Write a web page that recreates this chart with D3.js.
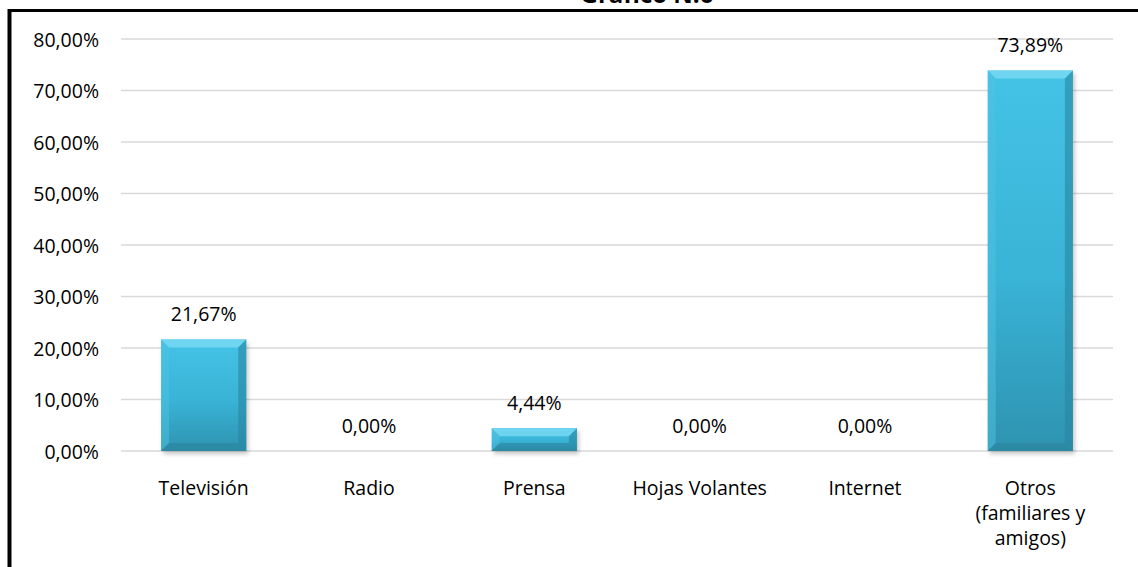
<!DOCTYPE html>
<html>
<head>
<meta charset="utf-8">
<script src="https://cdn.jsdelivr.net/npm/d3@7"></script>
<style>
  html, body { margin: 0; padding: 0; background: #fff; }
  svg { display: block; }
  text { font-family: "Open Sans", "Noto Sans", sans-serif; fill: #000; }
</style>
</head>
<body>
<svg id="chart" width="1138" height="567"></svg>
<script>
// Medio por el que se enteraron
const categories = ["Televisión", "Radio", "Prensa", "Hojas Volantes", "Internet", "Otros (familiares y amigos)"];
const categoryLines = [["Televisión"], ["Radio"], ["Prensa"], ["Hojas Volantes"], ["Internet"], ["Otros", "(familiares y", "amigos)"]];
const values = [21.67, 0.00, 4.44, 0.00, 0.00, 73.89];
const yTicks = [0, 10, 20, 30, 40, 50, 60, 70, 80];
const title = "Gráfico N.6";

const W = 1138, H = 567;
const plot = { left: 121, right: 1113, top: 39, bottom: 451 };
const fontSize = "19.5px";

const svg = d3.select("#chart");
const fmt = v => d3.format(".2f")(v).replace(".", ",") + "%";

const x = d3.scaleBand().domain(categories).range([plot.left, plot.right]).paddingInner(0.485).paddingOuter(0.2425);
const y = d3.scaleLinear().domain([0, 80]).range([plot.bottom, plot.top]);

const defs = svg.append("defs");
const face = defs.append("linearGradient").attr("id", "face").attr("x1", 0).attr("y1", 0).attr("x2", 0).attr("y2", 1);
face.append("stop").attr("offset", "0%").attr("stop-color", "#44c3e7");
face.append("stop").attr("offset", "55%").attr("stop-color", "#39b3d6");
face.append("stop").attr("offset", "100%").attr("stop-color", "#2e93b0");
const blur = defs.append("filter").attr("id", "shadow").attr("x", "-20%").attr("y", "-20%").attr("width", "140%").attr("height", "140%");
blur.append("feGaussianBlur").attr("stdDeviation", 2);

// Frame
svg.append("line").attr("x1", 10).attr("x2", W).attr("y1", 10.5).attr("y2", 10.5).attr("stroke", "#000").attr("stroke-width", 3);
svg.append("line").attr("x1", 9.5).attr("x2", 9.5).attr("y1", 9).attr("y2", H).attr("stroke", "#000").attr("stroke-width", 4);

// Title
svg.append("text").attr("x", 647).attr("y", 3).attr("text-anchor", "middle")
  .style("font-size", "24px").style("font-weight", "bold").text(title);

// Gridlines
const grid = svg.append("g");
grid.selectAll("line").data(yTicks).join("line")
  .attr("x1", plot.left).attr("x2", plot.right)
  .attr("y1", d => y(d)).attr("y2", d => y(d))
  .attr("stroke", "#d9d9d9").attr("stroke-width", 1.6);

// Y axis labels
const yAxis = svg.append("g").attr("transform", `translate(${plot.left},0)`)
  .call(d3.axisLeft(y).tickValues(yTicks).tickFormat(fmt).tickSize(0).tickPadding(22));
yAxis.select(".domain").remove();
yAxis.selectAll("text").style("font-size", fontSize).style("font-family", "\"Open Sans\", sans-serif")
  .style("fill", "#000").attr("dy", "0.36em");

// Bars with bevelled edges
const bw = x.bandwidth();
const bars = svg.append("g").selectAll("g").data(values.map((v, i) => ({ v, c: categories[i] }))).join("g")
  .filter(d => d.v > 0);
bars.each(function(d) {
  const g = d3.select(this);
  const x0 = x(d.c), x1 = x0 + bw, y0 = y(d.v), y1 = y(0);
  const b = Math.min(8, (y1 - y0) / 2);
  g.append("rect").attr("x", x0 + 2).attr("y", y0 + 3).attr("width", bw).attr("height", y1 - y0)
    .attr("fill", "#000").attr("opacity", 0.22).attr("filter", "url(#shadow)");
  g.append("rect").attr("x", x0).attr("y", y0).attr("width", bw).attr("height", y1 - y0).attr("fill", "url(#face)");
  // top bevel
  g.append("polygon").attr("points", [[x0, y0], [x1, y0], [x1 - b, y0 + b], [x0 + b, y0 + b]].join(" "))
    .attr("fill", "#7ad9f2").attr("opacity", 0.8);
  // left bevel
  g.append("polygon").attr("points", [[x0, y0], [x0 + b, y0 + b], [x0 + b, y1 - b], [x0, y1]].join(" "))
    .attr("fill", "#4fc1e1").attr("opacity", 0.5);
  // right bevel
  g.append("polygon").attr("points", [[x1, y0], [x1, y1], [x1 - b, y1 - b], [x1 - b, y0 + b]].join(" "))
    .attr("fill", "#2a86a2").attr("opacity", 0.6);
  // bottom bevel
  g.append("polygon").attr("points", [[x0, y1], [x0 + b, y1 - b], [x1 - b, y1 - b], [x1, y1]].join(" "))
    .attr("fill", "#2a7f98").attr("opacity", 0.5);
});

// Value labels
svg.append("g").selectAll("text").data(values).join("text")
  .attr("x", (d, i) => x(categories[i]) + bw / 2)
  .attr("y", d => y(d) - 18)
  .attr("text-anchor", "middle").style("font-size", fontSize)
  .text(fmt);

// Category labels
const cat = svg.append("g").selectAll("text").data(categoryLines).join("text")
  .attr("x", (d, i) => x(categories[i]) + bw / 2)
  .attr("y", 495).attr("text-anchor", "middle").style("font-size", fontSize);
cat.selectAll("tspan").data(d => d).join("tspan")
  .attr("x", function() { return d3.select(this.parentNode).attr("x"); })
  .attr("dy", (d, i) => i === 0 ? 0 : 25).text(d => d);
</script>
</body>
</html>
